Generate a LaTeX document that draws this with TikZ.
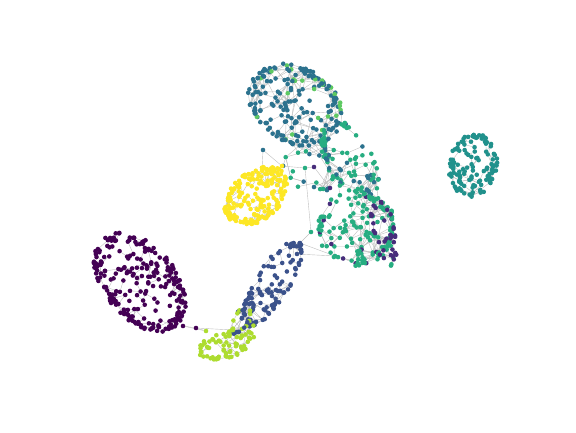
\documentclass[tikz,border=0pt]{standalone}
\usepackage{xcolor}
\usepackage{tikz}
\usetikzlibrary{backgrounds}

\definecolor{vpurple}{HTML}{440154}
\definecolor{vindigo}{HTML}{472D7B}
\definecolor{vblue}{HTML}{3B528B}
\definecolor{vsteel}{HTML}{2C728E}
\definecolor{vteal}{HTML}{21918C}
\definecolor{vgreen}{HTML}{27AD81}
\definecolor{vleaf}{HTML}{5EC962}
\definecolor{vlime}{HTML}{ADDC30}
\definecolor{vyellow}{HTML}{FDE725}

\def\blobgeo#1,#2,#3,#4,#5\relax{\def\gx{#1}\def\gy{#2}\def\grx{#3}\def\gry{#4}\def\gt{#5}}

% #1 name, #2 count, #3 main colour, #4 second colour, #5 share of #4, #6 cx,cy,rx,ry,tilt
\newcommand\blob[6]{%
  \blobgeo#6\relax
  \foreach \i in {1,...,#2}{%
    \pgfmathsetmacro\aa{360*rnd}%
    \pgfmathsetmacro\rr{rnd<0.4 ? 0.84+0.16*rnd : sqrt(rnd)}%
    \pgfmathsetmacro\px{\gx+\rr*\grx*cos(\aa)*cos(\gt)-\rr*\gry*sin(\aa)*sin(\gt)}%
    \pgfmathsetmacro\py{\gy+\rr*\grx*cos(\aa)*sin(\gt)+\rr*\gry*sin(\aa)*cos(\gt)}%
    \expandafter\xdef\csname #1x\i\endcsname{\px}%
    \expandafter\xdef\csname #1y\i\endcsname{\py}%
    \pgfmathsetmacro\pick{rnd}%
    \ifdim\pick pt<#5pt \def\cc{#4}\else\def\cc{#3}\fi
    \node[dot, fill=\cc] (#1\i) at (\px,\py) {};
  }}

% #1,#2 names, #3,#4 counts, #5 tries, #6 reach
\newcommand\blinks[6]{%
  \foreach \i in {1,...,#3}{%
    \foreach \k in {1,...,#5}{%
      \pgfmathrandominteger\j{1}{#4}%
      \edef\xa{\csname #1x\i\endcsname}\edef\ya{\csname #1y\i\endcsname}%
      \edef\xb{\csname #2x\j\endcsname}\edef\yb{\csname #2y\j\endcsname}%
      \pgfmathsetmacro\dd{veclen(\xa-\xb,\ya-\yb)}%
      \ifdim\dd pt<#6pt \draw[edge] (#1\i) -- (#2\j);\fi
    }}}

\begin{document}
\begin{tikzpicture}[
  x=1pt, y=-1pt,
  dot/.style={circle, draw=none, inner sep=0pt, minimum size=4.6pt},
  edge/.style={draw=black!25, line width=0.4pt}
]
\useasboundingbox (0,0) rectangle (576,432);
\pgfmathsetseed{42}

% clusters
\blob{pur}{250}{vpurple}{vpurple}{0}{140,282,58,36,50}
\blob{ylw}{200}{vyellow}{vyellow}{0}{256,196,36,24,-40}
\blob{tea}{125}{vteal}{vteal}{0}{473,165,24,32,10}
\blob{top}{200}{vsteel}{vleaf}{0.12}{295,105,50,38,30}
\blob{gup}{80}{vgreen}{vsteel}{0.3}{350,160,42,24,62}
\blob{mid}{22}{vgreen}{vsteel}{0.4}{308,172,28,22,20}
\blob{glo}{140}{vgreen}{vindigo}{0.15}{356,228,40,38,0}
\blob{rim}{40}{vindigo}{vgreen}{0.3}{384,232,35,12,80}
\blob{str}{110}{vblue}{vblue}{0}{272,284,50,17,-58}
\blob{lme}{65}{vlime}{vlime}{0}{226,345,30,13,-15}
\blob{lmu}{30}{vlime}{vblue}{0.3}{245,320,20,11,-60}

% bridges
\node[dot, fill=vpurple] (pa) at (183,326) {};
\node[dot, fill=vpurple] (tip) at (196,328) {};
\node[dot, fill=vlime] (la) at (206,331) {};
\node[dot, fill=vlime] (lb) at (233,330) {};
\node[dot, fill=vsteel] (tb1) at (263,150) {};
\node[dot, fill=vyellow] (yb1) at (262,170) {};
\node[dot, fill=vyellow] (yb2) at (282,166) {};
\node[dot, fill=vgreen] (gb4) at (305,168) {};
\node[dot, fill=vindigo] (ib1) at (314,167) {};
\node[dot, fill=vindigo] (ib2) at (330,188) {};
\node[dot, fill=vgreen] (gb1) at (311,232) {};
\node[dot, fill=vblue] (sb1) at (300,243) {};
\node[dot, fill=vblue] (sb2) at (297,254) {};
\node[dot, fill=vgreen] (gb2) at (335,256) {};

\begin{scope}[on background layer]
\blinks{pur}{pur}{250}{250}{8}{15}
\blinks{ylw}{ylw}{200}{200}{5}{13}
\blinks{tea}{tea}{125}{125}{6}{13}
\blinks{top}{top}{200}{200}{12}{20}
\blinks{gup}{gup}{80}{80}{6}{20}
\blinks{mid}{mid}{22}{22}{4}{22}
\blinks{glo}{glo}{140}{140}{10}{20}
\blinks{rim}{rim}{40}{40}{4}{14}
\blinks{str}{str}{110}{110}{6}{15}
\blinks{lme}{lme}{65}{65}{4}{13}
\blinks{lmu}{lmu}{30}{30}{3}{15}
\blinks{top}{gup}{200}{80}{4}{20}
\blinks{top}{mid}{200}{22}{3}{24}
\blinks{mid}{gup}{22}{80}{6}{24}
\blinks{gup}{glo}{80}{140}{5}{20}
\blinks{glo}{rim}{140}{40}{3}{16}
\blinks{str}{lmu}{110}{30}{3}{16}
\blinks{lmu}{lme}{30}{65}{4}{16}
\draw[edge] (pa) -- (tip); \draw[edge] (tip) -- (la); \draw[edge] (tip) -- (lb);
\draw[edge] (pa) -- (la);
\draw[edge] (yb1) -- (tb1); \draw[edge] (yb2) -- (tb1); \draw[edge] (yb2) -- (gb4);
\draw[edge] (gb4) -- (gb1); \draw[edge] (gb4) -- (ib1); \draw[edge] (ib1) -- (ib2);
\draw[edge] (gb1) -- (sb1); \draw[edge] (sb1) -- (sb2); \draw[edge] (sb2) -- (gb2);
\draw[edge] (sb1) -- (gb2);
\end{scope}
\end{tikzpicture}
\end{document}
